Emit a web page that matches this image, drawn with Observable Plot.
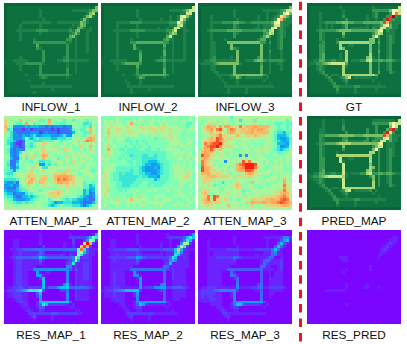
<!DOCTYPE html>
<html>
<head>
<meta charset="utf-8">
<script src="https://cdn.jsdelivr.net/npm/d3@7"></script>
<script src="https://cdn.jsdelivr.net/npm/@observablehq/plot@0.6"></script>
<style>
html,body{margin:0;padding:0;background:#fff}
#chart{position:relative;width:407px;height:344px;overflow:hidden;font-family:"Liberation Sans",Arial,sans-serif}
#chart svg{position:absolute;background:none;max-width:none}
.lab{position:absolute;width:110px;text-align:center;font-size:11.8px;line-height:14px;color:#111;white-space:nowrap}
</style>
</head>
<body>
<div id="chart"></div>
<script>
const INFLOW_1 = [
"00000000 00000000 00000000 00000000","01111111 11111111 11111111 11111115","01111111 11112111 11111112 22222355",
"01111111 11112111 11111111 11112561","01111111 11112111 11111111 11125621","01111111 11111211 11111111 11252111",
"01111122 22222222 11222222 22542111","01111211 11112111 11111112 12541111","01111211 11112111 11111121 14421211",
"01112222 22233332 22222232 45112211","01111211 11112111 11111123 53112111","01111211 11111111 11111145 21112111",
"01111211 11211111 11111331 21112111","01111111 11333333 33333221 21112111","01111111 11141111 11111311 21112111",
"01111111 11132111 11111311 21112111","01111111 11111311 11111311 21112111","01111111 11111311 11111311 21111111",
"01111211 11111311 11112311 21111111","11122222 11111311 11223322 22222111","11112223 33333211 11111211 21111111",
"01111211 11113111 11111211 21111111","01111211 11113111 11111311 21111111","01111111 11113111 11111311 21111111",
"01111112 11123333 33333321 11111111","01111111 11112321 11111211 11111111","01111111 21111111 11111111 11111111",
"01111111 11111211 11111111 11111111","01111111 12222222 22222221 11111111","01111111 11111111 21111111 11111111",
"01111111 11211111 11111111 11111111","00000000 00000000 00000000 00000000"];
const INFLOW_2 = [
"00000000 00000000 00000000 00000000","01111111 11111111 11111111 11111117","01111111 11112111 11111112 22223577",
"01111111 11112111 11111111 11122771","01111111 11112111 11111112 11278521","01111111 11111211 11112112 11285211",
"01111222 22333322 22222223 33863111","01111211 11112111 11111112 22672111","01111211 11112111 11121121 27722111",
"01112222 22333332 22222233 57112211","01111211 11112111 11111124 65112111","01111211 11112111 11111147 21112111",
"01111211 11211111 11111342 21112111","01111211 11334444 44444331 21112111","01111211 11141111 11111411 21112111",
"01111211 11142111 11111311 21112111","01111211 11111311 11111411 21112111","01111211 11111411 11111411 21112111",
"01111211 11111411 11112311 21112111","11122222 21111411 11233422 22222111","11112223 44444311 11111311 21111111",
"01111211 11114111 11111311 21111111","01111211 11113111 11111411 21111111","01111111 11113111 11111411 21111111",
"01111112 11123344 44444431 11111111","01111111 11112431 11111211 11111111","01111111 21111211 11111111 11111111",
"01111111 12111211 11111111 11111111","01111111 12222222 22222222 21111111","01111111 11211111 21111111 11111111",
"01111111 11211111 11111111 11111111","00000000 00000000 00000000 00000000"];
const INFLOW_3 = [
"00000000 00000000 00000000 00000000","01111111 11111111 11111111 11111115","01111111 11112111 11111122 22223477",
"01111111 11112111 11111112 11123795","01112111 11112111 11112112 1123ab42","01112111 11111211 11112112 1239b322",
"01112222 33334433 22333333 34a93222","01112111 11113211 11112122 23773221","01112111 11113211 11122122 27823211",
"01123333 33444443 33333343 67123211","01112111 11113211 11111134 76123211","01112111 11113111 11111246 31123211",
"01112111 12111111 11112441 21123111","01112211 11555555 55555331 31123111","01112211 11151111 11111511 21123111",
"01112211 11153211 11111511 21123111","01112211 11111511 11111511 31112111","01112211 11111511 11111511 21112111",
"01112311 11121511 11113511 21112111","11223322 22222511 22245532 33333211","12222345 55555521 11111311 21122111",
"01112211 11115111 11111411 21112111","01112211 11115111 11111411 21112111","01111221 11115111 11111411 21111111",
"01111122 22235555 55555532 11111111","01111112 11122531 22222212 11111111","01111111 21111211 11111121 11111111",
"01111111 12111211 11111111 21111111","01111111 12222222 22222222 22111111","01111111 11211111 21111111 11111111",
"01111111 11211111 21111111 11111111","00000000 00000000 00000000 00000000"];
const GT = [
"00000000 00000000 00000000 00000000","01111111 11121111 11111121 11111117","01111111 11112111 11111133 33335987",
"01112111 11112111 11111123 1111 39c7","01112111 11113111 11112123 1113df32","01112111 11111311 11112112 113ed322",
"01112233 33445544 33344444 45db3222","01112121 21112411 11112122 24784221","01112121 21112412 22222132 27734221",
"01123333 33455554 44444445 78132211","01113211 11115111 11111135 76122211","01113211 11113111 11111158 31123211",
"01113211 11211111 11111551 31123211","01112311 11366666 66666551 41123211","01113311 11161122 11111511 31123111",
"01113311 11165111 11111511 31123111","01113311 11111611 11111511 41123111","01113411 11121611 11111611 31123111",
"01113411 11121611 11115621 31123111","11224422 33222612 22336733 44344322","12233456 77777411 11111511 31123111",
"11123211 11116211 11111511 31123111","01123211 11116111 11111511 31123111","01112311 11116111 11111511 41113211",
"01111231 22216666 66666664 11111111","01111123 11123571 22222212 11111111","01111112 31112311 11111121 11111111",
"01111111 23111211 11111111 21111111","01111111 13322222 33222222 22211111","01111111 11311111 21111112 11111111",
"01111111 11211111 21111111 11111111","00000000 00000000 00000000 00000000"];
const ATTEN_MAP_1 = [
"88888888 88888888 88888888 88888888","a8778b87 7a87667c 77876876 77876778","a887667c 7867877b 77766778 77755687",
"b7733334 34443323 23332337 87767587","a5622212 31222222 12122236 87668b87","a7532222 23331232 22122224 78766b87",
"77533243 34533444 33345337 87767a97","86533347 54565555 44555668 9878bcb8","75542126 67555666 68767787 8a8bdcb7",
"75421127 65788a98 87778778 87878987","78422126 65689788 79788787 87a88b87","76323327 77888a88 8897a987 77877a87",
"76323587 88778a97 88887788 78787887","8732378a 78a79cb8 77777978 88888777","77422686 7a787b97 88678878 87878877",
"76224877 76875566 78887879 87887877","75225878 87793365 76787877 88878887","76324778 87a88558 88888888 88778777",
"66536877 8a878a88 88777a97 87888767","65578888 9a888888 8a9ab998 87788878","76678889 b9a89aa8 9bccccba 88877887",
"55556889 9ca8aba7 8bdcdcba 88877877","43342789 cb89ba98 9accbb9a 88867767","33423687 a8878988 87998a89 88866458",
"32224668 98788777 87878978 87866447","43334566 78876788 89a97887 87745347","54423335 66778889 aab98887 87745237",
"65532244 54567789 9a987778 76543236","76643334 45678786 78876565 54423226","87765565 66788776 53445554 44322246",
"88877787 88788775 45676665 55424578","88888888 88888888 88888888 88888888"];
const ATTEN_MAP_2 = [
"77777877 77777877 78777877 78777787","78787877 78787897 78787878 78778787","78887887 78c78777 88778787 77787667",
"78898888 99888998 98899988 88777678","78a88998 89888898 99989989 88887788","78b88988 99988888 88988889 87877877",
"78a88887 88888778 78878889 88877777","87987888 76777777 77677789 98877877","87877887 66676767 77777788 88877787",
"78987777 77676776 77777778 88887887","78a78777 67767677 67777778 78788787","78c87766 76666776 67767788 87877877",
"78987777 66666666 66666677 78888787","87987776 76566655 66566677 78787887","88877767 67666655 55566677 77887878",
"78777777 76676655 44456667 77878787","87888777 77676654 43345667 77878787","78887666 66666543 33435667 78888787",
"78887666 66566543 33345667 78887888","79876656 55566554 43345667 78888987","89876655 55555655 44436667 78889a87",
"88876655 55556666 66456667 77889887","79877665 55566677 66666677 77788777","89877665 55666777 67666778 77787787",
"88a77666 66777777 77777877 78787787","88a77767 67778777 87877787 77877777","89877777 77787877 77777777 77887787",
"87877777 77787a88 77888877 78788777","78787978 78b88888 77877888 77777878","78788877 88888878 88888877 77877787",
"78777877 78787887 77878777 78787877","77787777 77777777 77777777 77777777"];
const ATTEN_MAP_3 = [
"88888888 88868888 88888888 88888888","87788878 88878858 88768888 78888868","77899798 78977887 88998787 78666766",
"78acbb8c 9ccaa9d9 bbbcbbbb 98767767","78abc9de a8bdc9ab abcbccba 88766767","7889b8ab 88bcb9aa bbcabbbb 88655466",
"78889abd 9a898b98 aaaba998 87644457","788abaed b9a98888 88888888 87643346","78aabbec ba898878 88788778 87654346",
"78dbdeef b9888788 78777788 87744436","78cdeefc a9a98878 87878788 87753347","7acbeb9b 98887787 88788988 87654568",
"8bcbb978 87787888 87878788 77766778","8ecc9989 88787738 38788877 77877788","8bca9888 88878888 78878887 77778788",
"8dba8978 8388888e ad888878 77878787","7db98787 78887bde fffe8878 77878787","7ebba887 88787bcd fffd9877 78888777",
"8ecb9a88 78788bcc eeda8778 87888777","8bbca9a9 98978898 bcb98888 77878787","89abbbaa aa989999 9a988877 78878888",
"89aa9988 88887888 88888778 88878b87","87a98787 57878a88 77b88987 87788c88","88898677 87889b97 88877787 78888d98",
"8a888887 78878a98 78887788 88888c98","79a98887 78888886 77888888 8889ada8","8ab97887 88988887 88788888 8899bcb8",
"89ad7ed8 88878989 78888999 9aabcdb8","8abd9ea9 8a978778 88aa99ab bcbbded9","89bba9a9 88888888 aacbbbcb bccdedcb",
"88999888 88b88878 78a87899 9aaabcba","78888888 88888888 88888888 88888888"];
const PRED_MAP = [
"00000000 00000000 00000000 00000000","01111211 11112111 11111122 22222217","01111211 11112111 11111133 33336877",
"01111211 11113111 11111113 11115971","01112211 11113111 11113113 1114de31","01112211 11111311 11113113 113ea311",
"01113344 44455555 44455555 55db4222","01113211 11113311 11113123 33784221","01113211 11123422 22233133 27724221",
"01123344 44566665 55555555 78122211","01113211 11115111 11111135 77122211","01113211 11113111 11111159 31123211",
"01113211 11211111 11111661 31123211","01113211 11666666 66666611 31123211","01113311 11171122 11111611 31123111",
"01113311 11172111 11111611 31123111","01113311 11117111 11111511 31123111","01113311 11117111 11111651 31123111",
"01113411 11117111 11115621 31123111","11224422 33227212 22336733 44344322","12334567 77776211 11111351 31123111",
"11223211 11127111 11111151 31123111","01123211 11117111 11111161 31123111","01112311 11117111 11111161 31113211",
"01111231 22217666 66666661 11111111","01111123 11123671 22222312 11111111","01111112 31112311 11111121 11111111",
"01111111 23111211 11111111 21111111","01111111 13322222 33222222 22211111","01111111 11311111 21111112 11111111",
"01111111 11211111 21111111 11111111","00000000 00000000 00000000 00000000"];
const RES_MAP_1 = [
"00000000 00000000 00000000 00000000","00000000 00001000 00000010 00000017","00000000 00001000 00000022 22224798",
"00011000 00001000 00000002 00026a92","00011000 00002000 00001002 000bfc20","00011000 00000200 00001001 00cec200",
"00112233 33444333 33333444 49d83111","00011211 11113200 00001011 19a73110","00011211 11123211 11121021 1a832110",
"00123333 33447643 33333335 a8122100","00012211 11114100 00000125 a6111100","00012211 11112000 00000248 21122100",
"00012211 11100000 00000551 21122100","00012211 11555555 55555531 31122100","00012211 00061011 00000500 21122100",
"00012211 00066100 00000500 21122100","00012211 00002700 00000500 21122100","00012211 00000700 00000500 21111100",
"00012211 00000700 00005710 21111100","01122321 22222713 33677733 44443210","12223467 88889300 00022400 21111000",
"01122211 00037000 00000500 21111000","01122211 00026000 00000500 21111000","00012211 00006000 00000500 21111000",
"00001221 00017777 77777730 00000000","00000112 00024872 22222101 00000000","00000011 10013300 00000011 00000000",
"00000001 21002100 00000000 11000000","00000000 22222222 33222222 21100000","00000000 01300000 10000000 00000000",
"00000000 00100000 10000000 00000000","00000000 00000000 00000000 00000000"];
const RES_MAP_2 = [
"00000000 00000000 00000000 00000000","00000000 00001000 00000010 00000016","00000000 00001000 00000012 22223787",
"00011000 00001000 00000001 00025871","00011000 00001000 00001001 0006ba20","00011000 00000100 00001001 006b8200",
"00112222 23333222 22222333 37c72111","00011111 11112100 00001011 17851100","00011211 11112211 11111011 18721100",
"00122222 23336532 22222224 87112100","00012111 11113100 00000115 75111100","00011111 11112000 00000127 11111100",
"00011111 11100000 00000441 11111100","00011111 11444444 44444421 21111000","00012111 00051000 00000400 21111000",
"00012111 00055100 00000400 21111000","00012111 00001600 00000400 21111000","00012111 00000600 00000400 11111000",
"00012111 00000600 00004500 11111000","01112211 11111612 22556622 33332100","11223456 77777200 00012300 11111000",
"01112111 00026000 00000400 11111000","01112111 00015000 00000400 11111000","00011211 00005000 00000400 11100000",
"00001111 00015666 66666620 00000000","00000011 00013762 11111101 00000000","00000001 10012200 00000010 00000000",
"00000000 11001100 00000000 10000000","00000000 12222222 22111111 11000000","00000000 01200000 10000000 00000000",
"00000000 00100000 10000000 00000000","00000000 00000000 00000000 00000000"];
const RES_MAP_3 = [
"00000000 00000000 00000000 00000000","00000000 00000000 00000000 00000000","00000000 00001000 00000011 11112552",
"00010000 00001000 00000001 00013671","00010000 00001000 00000001 00047310","00010000 00000100 00000001 00374100",
"00011111 11222211 11122222 24741000","00010111 11111100 00000011 14511000","00010111 11111100 00011011 14411000",
"00011122 22224321 11111112 43001000","00011111 11112000 00000134 31112000","00011111 11111000 00000142 11112000",
"00011111 11100000 00000431 10012000","00011111 11333333 33333311 11012000","00011111 00041000 00000300 10111000",
"00011111 00044100 00000300 10111000","00011111 00001400 00000300 21111000","00011111 00000400 00000300 11111000",
"00011111 00000500 00002400 11111000","01122211 11111511 11223411 22222100","12222345 55555200 00011300 11111000",
"12222211 00015000 00000400 11000000","12122111 00015000 00000400 10000000","11112211 00005000 00000400 00000000",
"01111111 00015566 66666620 00000000","00001111 00014773 22222101 00000000","00000011 10012200 00000010 00000000",
"00000001 21001100 00000000 00000000","00000000 22111111 11111110 00000000","00000000 01200000 00000000 00000000",
"00000000 00100000 00000000 00000000","00000000 00000000 00000000 00000000"];
const RES_PRED = [
"00000000 00000000 00000000 00000000","00000000 00000000 00000000 00000000","00000000 00000000 00000000 00000110",
"00000000 00000000 00000000 00001110","00000000 00000000 00000000 00012100","00000000 00000000 00000000 00121000",
"00000000 00000000 00000000 01210000","00000000 00000000 00000000 01100000","00000000 00000000 00000000 11000000",
"00000000 00011100 00000000 10000000","00000000 00001100 00000000 00000000","00000000 00000000 00000000 00000000",
"00000000 00000000 00000100 00000000","00000000 00000100 00000100 00000000","00000000 00001000 00000000 00000000",
"00000000 00000000 00000000 00000000","00000000 00000000 00000000 00000000","00000000 00000000 00000000 00000000",
"00000000 00000100 00001000 00000000","00000000 00000100 00011000 10000000","00000011 11111000 00000000 00000000",
"00000000 00000000 00000000 00000000","00000000 00000000 00000000 00000000","00000000 00000000 00000000 00000000",
"00000000 00000000 00000000 00000000","00000000 00000100 00000000 00000000","00000000 00000000 00000000 00000000",
"00000000 00000000 00000000 00000000","00000000 00000000 00000000 00000000","00000000 00000000 00000000 00000000",
"00000000 00000000 00000000 00000000","00000000 00000000 00000000 00000000"];

const greens = ["#08663a","#0d713f","#1d8149","#339752","#55ac5f","#7bc069","#a6d675","#c8e88b","#eef7a8","#fffcb5","#fee08b","#fdae61","#f46d43","#e0432f","#c5202a","#a50026"];
const rainbowLow = ["#7a06ff","#6c22ff","#5a3cfe","#4a58fc","#386df9","#2489f5","#0fa2f0","#0fc4e7","#38e7d7","#66fcc2","#99fca6","#cce385","#ffb461","#ff743b","#ff381c","#ff0000"];
const rainbow = ["#8000ff","#5f38fd","#3c6ff8","#1a96f3","#0dc0ea","#3ce5d6","#5ff7c4","#80ffb4","#abf59c","#d1e085","#e8cf78","#f8b866","#ffa458","#ff7a40","#ff4f28","#ff1a0a"];

const panels = [
  {name:"INFLOW_1",grid:INFLOW_1,pal:greens,col:0,row:0},
  {name:"INFLOW_2",grid:INFLOW_2,pal:greens,col:1,row:0},
  {name:"INFLOW_3",grid:INFLOW_3,pal:greens,col:2,row:0},
  {name:"GT",grid:GT,pal:greens,col:3,row:0},
  {name:"ATTEN_MAP_1",grid:ATTEN_MAP_1,pal:rainbow,col:0,row:1},
  {name:"ATTEN_MAP_2",grid:ATTEN_MAP_2,pal:rainbow,col:1,row:1},
  {name:"ATTEN_MAP_3",grid:ATTEN_MAP_3,pal:rainbow,col:2,row:1},
  {name:"PRED_MAP",grid:PRED_MAP,pal:greens,col:3,row:1},
  {name:"RES_MAP_1",grid:RES_MAP_1,pal:rainbowLow,col:0,row:2},
  {name:"RES_MAP_2",grid:RES_MAP_2,pal:rainbowLow,col:1,row:2},
  {name:"RES_MAP_3",grid:RES_MAP_3,pal:rainbowLow,col:2,row:2},
  {name:"RES_PRED",grid:RES_PRED,pal:rainbowLow,col:3,row:2}
];
const colLeft = [4,101,198,307];
const rowTop = [3,116,230];
const labelTop = [100,213.5,327.5];
const cellIdx = d3.range(32);
const digits = d3.range(16);
const root = document.getElementById("chart");

for (const p of panels) {
  const cells = [];
  p.grid.forEach((line,r) => {
    const s = line.replace(/\s/g,"");
    cellIdx.forEach(c => cells.push({r, c, v: parseInt(s[c] ?? "0",16)}));
  });
  const svg = Plot.plot({
    width:94,height:94,margin:0,
    x:{type:"band",domain:cellIdx,axis:null,padding:0,round:false},
    y:{type:"band",domain:cellIdx,axis:null,padding:0,round:false},
    color:{type:"ordinal",domain:digits,range:p.pal},
    marks:[Plot.cell(cells,{x:"c",y:"r",fill:"v",shapeRendering:"crispEdges"})]
  });
  svg.style.left = colLeft[p.col]+"px";
  svg.style.top = rowTop[p.row]+"px";
  svg.style.filter = "blur(0.45px)";
  root.appendChild(svg);
  const lab = document.createElement("div");
  lab.className = "lab";
  lab.textContent = p.name;
  lab.style.left = (colLeft[p.col]+47-55)+"px";
  lab.style.top = labelTop[p.row]+"px";
  root.appendChild(lab);
}
const divider = Plot.plot({
  width:6,height:344,margin:0,
  x:{domain:[0,1],axis:null},
  marks:[Plot.ruleX([0.5],{stroke:"#f5101e",strokeWidth:3,strokeDasharray:"8.5,5.9",strokeDashoffset:-1.7})]
});
divider.style.left = "296.5px";
divider.style.top = "0px";
root.appendChild(divider);
</script>
</body>
</html>
